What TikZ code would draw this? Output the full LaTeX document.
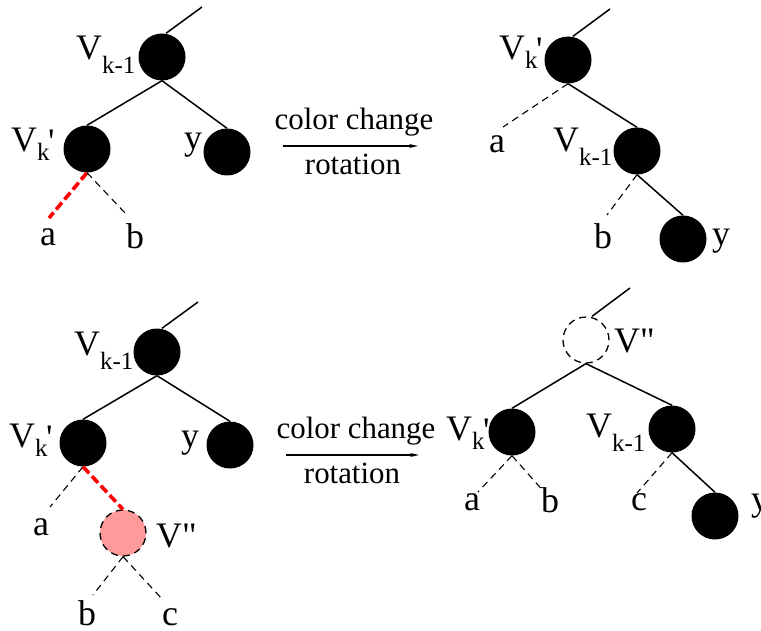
\documentclass[tikz,border=0pt]{standalone}
\usepackage{fontspec}
\setmainfont{Liberation Serif}[Ligatures=TeXOff]
\usetikzlibrary{arrows.meta}
\newcommand{\lblfnt}{\fontsize{36}{40}\selectfont}
\newcommand{\subfnt}{\fontsize{25}{28}\selectfont}
\newcommand{\arrfnt}{\fontsize{31}{34}\selectfont}
\newcommand{\Vkm}{V\raisebox{-14bp}{\subfnt k-1}}
\newcommand{\Vkp}{V\raisebox{-9bp}{\subfnt k}\kern-1.5bp\raisebox{-2bp}{'}}
\definecolor{pinkfill}{HTML}{FF9A9A}
\tikzset{
  blk/.style={circle, fill=black, minimum size=47bp, inner sep=0pt},
  hollow/.style={circle, draw=black, line width=1.3bp, dash pattern=on 7bp off 5bp, minimum size=46bp, inner sep=0pt},
  lbl/.style={anchor=base west, inner sep=0pt, font=\lblfnt},
  arrtxt/.style={anchor=base, inner sep=0pt, font=\arrfnt},
  edge/.style={line width=1.5bp},
  dedge/.style={line width=1.1bp, dash pattern=on 7bp off 5bp},
  redge/.style={draw=red, line width=3.6bp, dash pattern=on 9bp off 4bp},
  arr/.style={line width=1.2bp, -{Stealth[length=9bp,width=4bp]}}
}
\begin{document}
\begin{tikzpicture}[x=1bp,y=-1bp]
\useasboundingbox (0,0) rectangle (761,631);
% ---------- top left ----------
\node[blk] (a1) at (162,57) {};
\node[blk] (a2) at (87,149) {};
\node[blk] (a3) at (227,152) {};
\coordinate (a0) at (202,7);
\coordinate (aa) at (49,218);
\coordinate (ab) at (125,213);
\draw[edge] ([xshift=4bp]a1.north) -- (a0);
\draw[edge] (a1.south) -- (a2.north);
\draw[edge] (a1.south) -- (a3.north);
\draw[redge] (a2.south) -- (aa);
\draw[dedge] (a2.south) -- (ab);
\node[lbl] (la1) at (76,60) {\Vkm};
\node[lbl] (la2) at (11,152) {\Vkp};
\node[lbl] (la3) at (184,150) {y};
\node[lbl] (laa) at (40,245) {a};
\node[lbl] (lab) at (126,248) {b};
% ---------- top arrow ----------
\coordinate (r1s) at (283,146);
\coordinate (r1e) at (418,146);
\draw[arr] (r1s) -- (r1e);
\node[arrtxt] (r1t) at (354,130) {color change};
\node[arrtxt] (r1b) at (353,175) {rotation};
% ---------- top right ----------
\node[blk] (b1) at (568,60) {};
\node[blk] (b2) at (637,151) {};
\node[blk] (b3) at (683,239) {};
\coordinate (b0) at (610,9);
\coordinate (ba) at (503,127);
\coordinate (bb) at (607,215);
\draw[edge] ([xshift=5bp]b1.north) -- (b0);
\draw[dedge] (b1.south) -- (ba);
\draw[edge] (b1.south) -- (b2.north);
\draw[dedge] (b2.south) -- (bb);
\draw[edge] (b2.south) -- (b3.north);
\node[lbl] (lb1) at (499,60) {\Vkp};
\node[lbl] (lba) at (489,153) {a};
\node[lbl] (lb2) at (553,152) {\Vkm};
\node[lbl] (lbb) at (594,248) {b};
\node[lbl] (lb3) at (712,245) {y};
% ---------- bottom left ----------
\node[blk] (c1) at (157,352) {};
\node[blk] (c2) at (83,443) {};
\node[blk] (c3) at (230,445) {};
\node[hollow, fill=pinkfill] (c4) at (123,533) {};
\coordinate (c0) at (198,302);
\coordinate (ca) at (50,507);
\coordinate (cb) at (93,595);
\coordinate (cc) at (163,600);
\draw[edge] ([xshift=5bp]c1.north) -- (c0);
\draw[edge] (c1.south) -- (c2.north);
\draw[edge] (c1.south) -- (c3.north);
\draw[dedge] (c2.south) -- (ca);
\draw[redge] (c2.south) -- (c4.north);
\draw[dedge] (c4.south) -- (cb);
\draw[dedge] (c4.south) -- (cc);
\node[lbl] (lc1) at (74,355) {\Vkm};
\node[lbl] (lc2) at (9,447) {\Vkp};
\node[lbl] (lc3) at (181,447) {y};
\node[lbl] (lca) at (33,535) {a};
\node[lbl] (lc4) at (156,547) {V"};
\node[lbl] (lcb) at (78,625) {b};
\node[lbl] (lcc) at (162,625) {c};
% ---------- bottom arrow ----------
\coordinate (r2s) at (286,455);
\coordinate (r2e) at (419,455);
\draw[arr] (r2s) -- (r2e);
\node[arrtxt] (r2t) at (356,438) {color change};
\node[arrtxt] (r2b) at (352,483) {rotation};
% ---------- bottom right ----------
\node[hollow] (d0n) at (586,340) {};
\node[blk] (d1) at (512,432) {};
\node[blk] (d2) at (672,429) {};
\node[blk] (d3) at (715,516) {};
\coordinate (d0) at (630,288);
\coordinate (da) at (478,492);
\coordinate (db) at (545,493);
\coordinate (dc) at (637,493);
\draw[edge] ([xshift=6bp]d0n.north) -- (d0);
\draw[edge] (d0n.south) -- (d1.north);
\draw[edge] (d0n.south) -- (d2.north);
\draw[dedge] (d1.south) -- (da);
\draw[dedge] (d1.south) -- (db);
\draw[dedge] (d2.south) -- (dc);
\draw[edge] (d2.south) -- (d3.north);
\node[lbl] (ld0) at (614,352) {V"};
\node[lbl] (ld1) at (446,440) {\Vkp};
\node[lbl] (ld2) at (586,437) {\Vkm};
\node[lbl] (lda) at (464,510) {a};
\node[lbl] (ldb) at (541,512) {b};
\node[lbl] (ldc) at (631,510) {c};
\node[lbl] (ld3) at (751,510) {y};
\end{tikzpicture}
\end{document}
